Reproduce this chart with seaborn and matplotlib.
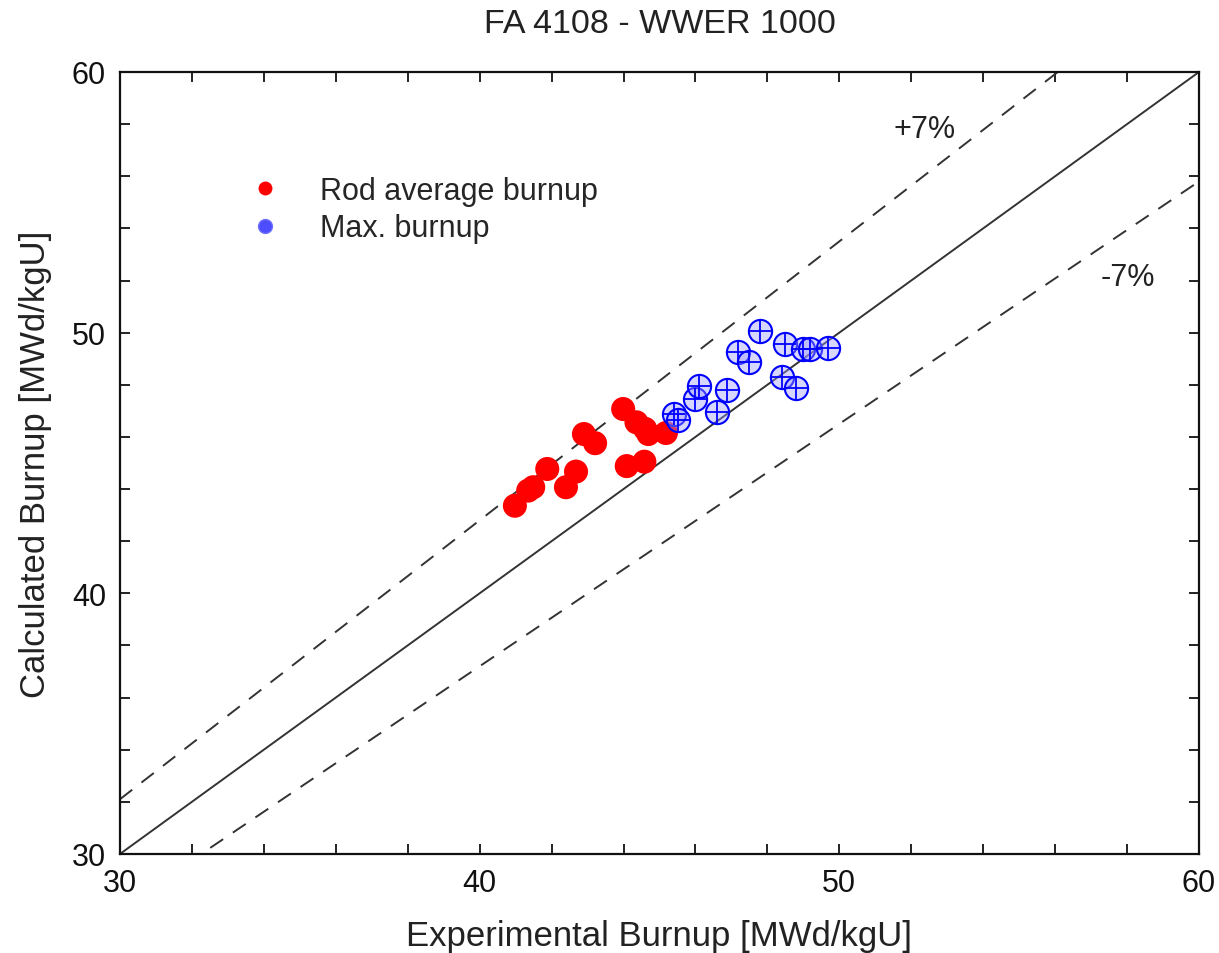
import matplotlib
matplotlib.use("Agg")
import matplotlib.pyplot as plt
import seaborn as sns
import numpy as np
import pandas as pd
from matplotlib.lines import Line2D
from matplotlib.ticker import MultipleLocator

# ---- data ----
rod_exp = [40.98, 41.35, 41.49, 41.88, 42.40, 42.68, 42.90, 43.21, 43.99, 44.09, 44.36, 44.60, 44.69, 44.58, 45.18]
rod_calc = [43.36, 43.94, 44.07, 44.77, 44.07, 44.67, 46.11, 45.76, 47.07, 44.88, 46.56, 46.31, 46.11, 45.05, 46.15]
max_exp = [45.40, 45.52, 45.99, 46.10, 46.59, 46.88, 47.19, 47.50, 47.79, 48.40, 48.49, 48.79, 48.98, 49.18, 49.69]
max_calc = [46.88, 46.66, 47.46, 47.97, 46.97, 47.81, 49.27, 48.86, 50.05, 48.29, 49.57, 47.88, 49.37, 49.37, 49.40]
line_x = [30, 60]
band = 0.07
title = "FA 4108 - WWER 1000"
xlabel = "Experimental Burnup [MWd/kgU]"
ylabel = "Calculated Burnup [MWd/kgU]"
series_labels = ["Rod average burnup", "Max. burnup"]

sns.set_style("ticks")
plt.rcParams['font.family'] = ['Liberation Sans', 'DejaVu Sans']

fig = plt.figure(figsize=(12.19, 9.54), dpi=100)
ax = fig.add_axes([0.0984, 0.1038, 0.8852, 0.8197])

lines_df = pd.DataFrame({
    "x": line_x,
    "y": line_x,
    "up": [v * (1 + band) for v in line_x],
    "lo": [v * (1 - band) for v in line_x],
})
sns.lineplot(data=lines_df, x="x", y="y", ax=ax, color="#333333", lw=1.4)
sns.lineplot(data=lines_df, x="x", y="up", ax=ax, color="#333333", lw=1.4,
             linestyle=(0, (8, 6)))
sns.lineplot(data=lines_df, x="x", y="lo", ax=ax, color="#333333", lw=1.4,
             linestyle=(0, (8, 6)))

rod_df = pd.DataFrame({"exp": rod_exp, "calc": rod_calc})
max_df = pd.DataFrame({"exp": max_exp, "calc": max_calc})

sns.scatterplot(data=rod_df, x="exp", y="calc", ax=ax, color="#ff0000", s=300,
                edgecolor="none", zorder=3)
sns.scatterplot(data=max_df, x="exp", y="calc", ax=ax, s=280,
                facecolor=(0.6, 0.6, 1.0, 0.4), edgecolor="#0000ff", linewidth=1.5, zorder=4)
sns.scatterplot(data=max_df, x="exp", y="calc", ax=ax, s=260, marker="+",
                color="#0000ff", linewidth=1.3, zorder=5)

ax.set_xlim(30, 60)
ax.set_ylim(30, 60)
ax.xaxis.set_major_locator(MultipleLocator(10))
ax.yaxis.set_major_locator(MultipleLocator(10))
ax.xaxis.set_minor_locator(MultipleLocator(2))
ax.yaxis.set_minor_locator(MultipleLocator(2))
ax.tick_params(which="both", direction="in", top=True, right=True, length=7, width=1.3,
               colors="#111111")
ax.tick_params(which="major", labelsize=22, pad=10)
for s in ax.spines.values():
    s.set_linewidth(1.6)
    s.set_color("#111111")

ax.set_xlabel(xlabel, fontsize=25, labelpad=15, color="#222222")
ax.set_ylabel(ylabel, fontsize=25, labelpad=14, color="#222222")
ax.set_title(title, fontsize=24.5, pad=28.5, color="#222222")

ax.text(52.38, 57.81, "+7%", fontsize=22, ha="center", va="center", color="#222222")
ax.text(58.02, 52.14, "-7%", fontsize=22, ha="center", va="center", color="#222222")

handles = [
    Line2D([], [], marker="o", linestyle="none", markersize=10, markerfacecolor="#ff0000",
           markeredgecolor="none"),
    Line2D([], [], marker="o", linestyle="none", markersize=10, markerfacecolor="#4d4dff",
           markeredgecolor="#7070ff"),
]
ax.legend(handles, series_labels, loc="upper left", bbox_to_anchor=(0.102, 0.883),
          frameon=False, fontsize=22, handletextpad=1.05, labelspacing=0.25,
          handlelength=1.5, borderaxespad=0)

fig.savefig("out.png", dpi=100)
